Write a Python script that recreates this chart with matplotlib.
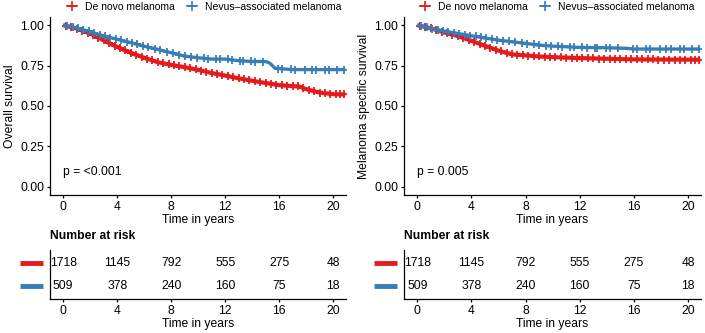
import numpy as np
from matplotlib import pyplot as plt
from matplotlib.lines import Line2D

plt.rcParams["font.family"] = ["Liberation Sans", "DejaVu Sans"]

# Kaplan-Meier curves
time_os = [0, 1, 2, 3, 4, 5, 6, 7, 8, 9, 10, 11, 12, 13, 14, 15, 15.3, 15.7, 16, 17, 17.5, 18, 19, 20, 20.9]
os_denovo = [1.0, 0.978, 0.948, 0.906, 0.865, 0.829, 0.798, 0.771, 0.754, 0.740, 0.723, 0.704, 0.688,
             0.671, 0.656, 0.642, 0.638, 0.633, 0.629, 0.623, 0.620, 0.604, 0.583, 0.573, 0.571]
os_nevus = [1.0, 0.983, 0.958, 0.933, 0.912, 0.892, 0.869, 0.850, 0.829, 0.808, 0.798, 0.790, 0.790,
            0.780, 0.775, 0.775, 0.765, 0.733, 0.731, 0.725, 0.725, 0.725, 0.725, 0.725, 0.725]

time_mss = [0, 1, 2, 3, 4, 5, 6, 7, 8, 9, 10, 12, 14, 15.5, 16, 20.9]
mss_denovo = [1.0, 0.980, 0.955, 0.932, 0.903, 0.872, 0.842, 0.819, 0.813, 0.806, 0.802, 0.796,
              0.792, 0.789, 0.788, 0.786]
mss_nevus = [1.0, 0.979, 0.963, 0.948, 0.934, 0.920, 0.907, 0.897, 0.887, 0.876, 0.870, 0.862,
             0.860, 0.856, 0.852, 0.852]

# censoring times (marks on the curves)
censor_denovo = [0.2, 0.6, 1.0, 1.4, 1.8, 2.2, 2.6, 3.0, 3.4, 3.8, 4.2, 4.6, 5.0, 5.4, 5.8, 6.2, 6.6,
                 7.0, 7.4, 7.8, 8.2, 8.6, 9.0, 9.4, 9.8, 10.2, 10.6, 11.0, 11.4, 11.8, 12.2, 12.6,
                 13.0, 13.4, 13.8, 14.2, 14.6, 15.0, 15.4, 15.8, 16.2, 16.6, 17.0, 17.4, 17.8,
                 18.2, 18.6, 19.0, 19.4, 19.8, 20.2, 20.5, 20.8]
censor_nevus = [0.3, 0.7, 1.1, 1.5, 1.9, 2.3, 2.7, 3.1, 3.5, 3.9, 4.3, 4.7, 5.1, 5.5, 5.9, 6.3, 6.8,
                7.2, 7.7, 8.1, 8.6, 9.0, 9.5, 9.9, 10.4, 10.7, 11.3, 11.6, 12.2, 12.5, 13.1, 13.3,
                13.9, 14.2, 14.8, 15.9, 16.2, 16.9, 17.2, 17.9, 18.4, 18.7, 19.4, 19.7, 20.3, 20.8]

# number at risk
risk_times = [0, 4, 8, 12, 16, 20]
risk_denovo = [1718, 1145, 792, 555, 275, 48]
risk_nevus = [509, 378, 240, 160, 75, 18]

groups = ["De novo melanoma", "Nevus\u2013associated melanoma"]
colors = ["#E41A1C", "#377EB8"]
widths = [3.0, 2.4]

panels = [
    ("Overall survival", "p = <0.001", time_os, [os_denovo, os_nevus]),
    ("Melanoma specific survival", "p = 0.005", time_mss, [mss_denovo, mss_nevus]),
]

W, H = 705, 333
fig = plt.figure(figsize=(W / 100, H / 100), dpi=100)

main_boxes = [(50, 346), (404, 701)]
legend_centers = [204, 557]
fs = 8.7


def style(ax):
    for side in ["top", "right"]:
        ax.spines[side].set_visible(False)
    for side in ["left", "bottom"]:
        ax.spines[side].set_linewidth(0.9)
    ax.tick_params(length=2.5, width=0.9, pad=1.5, labelsize=fs, colors="black")
    ax.set_xlim(-0.98, 20.95)
    ax.set_xticks(risk_times)


for (x0, x1), lc, (ylab, ptext, times, curves) in zip(main_boxes, legend_centers, panels):
    ax = fig.add_axes([x0 / W, 1 - 195 / H, (x1 - x0) / W, (195 - 17) / H])
    style(ax)
    ax.set_ylim(-0.05, 1.05)
    ax.set_yticks([0, 0.25, 0.5, 0.75, 1.0])
    ax.set_yticklabels(["0.00", "0.25", "0.50", "0.75", "1.00"])
    ax.set_ylabel(ylab, fontsize=fs, labelpad=3)
    ax.set_xlabel("Time in years", fontsize=fs, labelpad=1)

    for surv, cens, col, lw in zip(curves, [censor_denovo, censor_nevus], colors, widths):
        ax.plot(times, surv, color=col, lw=lw, solid_capstyle="butt")
        cs = np.interp(cens, times, surv)
        ax.plot(cens, cs, ls="none", marker="+", ms=5.5, mew=1.3, color=col)

    ax.text(0, 0.093, ptext, fontsize=fs, ha="left", va="center")

    handles = [Line2D([], [], color=c, lw=1.2, marker="+", ms=7, mew=1.2) for c in colors]
    fig.legend(handles, groups, loc="center", bbox_to_anchor=(lc / W, 1 - 7 / H), ncol=2,
               frameon=False, fontsize=7.5, handlelength=1.0, handletextpad=0.7,
               columnspacing=1.2, borderpad=0)

    # risk table
    rax = fig.add_axes([x0 / W, 1 - 299 / H, (x1 - x0) / W, 49 / H])
    style(rax)
    rax.set_ylim(-0.565, 1.565)
    rax.set_yticks([])
    rax.set_xlabel("Time in years", fontsize=fs, labelpad=1)
    rax.set_title("Number at risk", loc="left", fontsize=fs, fontweight="bold", pad=8)
    for row, (vals, col) in enumerate(zip([risk_nevus, risk_denovo], colors[::-1])):
        for t, v in zip(risk_times, vals):
            rax.text(t, row, str(v), fontsize=fs, ha="center", va="center")
        rax.plot([-0.1, -0.025], [row, row], color=col, lw=3.5, solid_capstyle="butt",
                 transform=rax.get_yaxis_transform(), clip_on=False)

fig.savefig("out.png", dpi=100)
